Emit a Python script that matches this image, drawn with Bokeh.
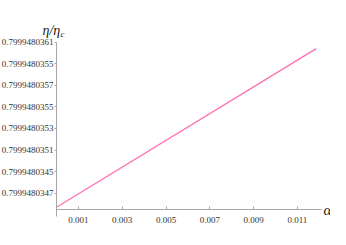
from bokeh.plotting import figure
from bokeh.models import FixedTicker, Range1d, Label, LinearAxis
from bokeh.embed import file_html
from bokeh.resources import INLINE

# data
alpha = [0.0, 0.01186]
eta_ratio = [0.79994803457, 0.79994803604]

x_ticks = [0.001, 0.003, 0.005, 0.007, 0.009, 0.011]
x_tick_labels = ["0.001", "0.003", "0.005", "0.007", "0.009", "0.011"]
y_ticks = [0.7999480361, 0.7999480359, 0.7999480357, 0.7999480355,
           0.7999480353, 0.7999480351, 0.7999480349, 0.7999480347]
y_tick_labels = ["0.7999480361", "0.7999480355", "0.7999480357", "0.7999480355",
                 "0.7999480353", "0.7999480351", "0.7999480345", "0.7999480347"]

# view window (frame covers the whole canvas; axes are placed at fixed locations)
x_view = (-0.0025571, 0.0125114)
y_view = (0.7999480343635, 0.7999480364866)
x_axis_at_y = 0.799948034546
y_axis_at_x = 0.0
x_axis_bounds = (0.0, 0.01209)
y_axis_bounds = (0.799948034485, 0.7999480361)

p = figure(width=330, height=229, output_backend="svg", toolbar_location=None,
           x_range=Range1d(*x_view), y_range=Range1d(*y_view),
           x_axis_type=None, y_axis_type=None,
           min_border=0, min_border_left=0, min_border_right=0,
           min_border_top=0, min_border_bottom=0)
p.outline_line_color = None
p.grid.visible = False
p.background_fill_color = "white"
p.border_fill_color = "white"

p.line(alpha, eta_ratio, line_color="#ff6eb4", line_width=1.3)

axis_color = "#a6a6a6"
xaxis = LinearAxis(fixed_location=x_axis_at_y, bounds=x_axis_bounds,
                   ticker=FixedTicker(ticks=x_ticks))
xaxis.major_label_overrides = {t: l for t, l in zip(x_ticks, x_tick_labels)}
xaxis.major_tick_in = 3
xaxis.major_tick_out = 0
xaxis.major_label_standoff = 7

yaxis = LinearAxis(fixed_location=y_axis_at_x, bounds=y_axis_bounds,
                   ticker=FixedTicker(ticks=y_ticks))
yaxis.major_label_overrides = {t: l for t, l in zip(y_ticks, y_tick_labels)}
yaxis.major_tick_in = 0
yaxis.major_tick_out = 2
yaxis.major_label_standoff = 1

for ax in (xaxis, yaxis):
    ax.axis_line_color = axis_color
    ax.major_tick_line_color = axis_color
    ax.minor_tick_line_color = None
    ax.major_label_text_font = "Liberation Serif"
    ax.major_label_text_font_size = "9px"
    ax.major_label_text_color = "#333333"

p.add_layout(xaxis, "below")
p.add_layout(yaxis, "left")

p.add_layout(Label(x=42, y=30, x_units="canvas", y_units="canvas", text="η/η",
                   text_font="Liberation Serif", text_font_style="italic",
                   text_font_size="14px", text_color="#222222", text_baseline="alphabetic"))
p.add_layout(Label(x=60, y=33, x_units="canvas", y_units="canvas", text="c",
                   text_font="Liberation Serif", text_font_style="italic",
                   text_font_size="9px", text_color="#222222", text_baseline="alphabetic"))
p.add_layout(Label(x=323, y=209, x_units="canvas", y_units="canvas", text="α",
                   text_font="Liberation Serif", text_font_style="italic",
                   text_font_size="15px", text_color="#222222", text_baseline="middle"))

open("out.html", "w").write(file_html(p, INLINE))
